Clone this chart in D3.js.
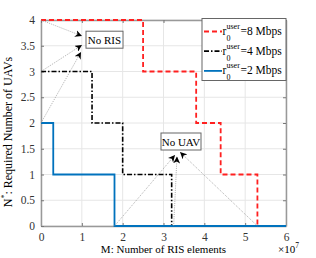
<!DOCTYPE html>
<html>
<head>
<meta charset="utf-8">
<script src="https://cdn.jsdelivr.net/npm/d3@7"></script>
<style>
  body { margin: 0; background: #fff; }
  text { font-family: "Liberation Serif", serif; }
</style>
</head>
<body>
<div id="chart"></div>
<script>
// step data, M in RIS elements
var xTicks = [0, 1e7, 2e7, 3e7, 4e7, 5e7, 6e7];
var yTicks = [0, 0.5, 1, 1.5, 2, 2.5, 3, 3.5, 4];

var redM = [0, 2.5e7, 3.8e7, 4.4e7, 5.3e7, 6e7];
var redN = [4, 3, 2, 1, 0, 0];
var blackM = [0, 1.25e7, 2e7, 3.2e7, 6e7];
var blackN = [3, 2, 1, 0, 0];
var blueM = [0, 0.3e7, 1.8e7, 6e7];
var blueN = [2, 1, 0, 0];

var legendLabels = ["=8 Mbps", "=4 Mbps", "=2 Mbps"];

var svgWidth = 316, svgHeight = 258;
var margin = { top: 20, right: 30, bottom: 32, left: 41 };
var width = svgWidth - margin.left - margin.right;
var height = svgHeight - margin.top - margin.bottom;

var svg = d3.select("#chart").append("svg")
  .attr("width", svgWidth)
  .attr("height", svgHeight);

var defs = svg.append("defs");
defs.append("marker")
  .attr("id", "arrow")
  .attr("viewBox", "0 0 10 10")
  .attr("refX", 10).attr("refY", 5)
  .attr("markerWidth", 7).attr("markerHeight", 7)
  .attr("markerUnits", "userSpaceOnUse")
  .attr("orient", "auto")
  .append("path")
  .attr("d", "M0,0 L10,5 L0,10 L3,5 Z")
  .attr("fill", "#000");

var g = svg.append("g")
  .attr("transform", `translate(${margin.left}, ${margin.top})`);

var x = d3.scaleLinear().domain([0, 6e7]).range([0, width]);
var y = d3.scaleLinear().domain([0, 4]).range([height, 0]);

// grid
g.append("g").selectAll("line").data(xTicks).enter().append("line")
  .attr("x1", d => x(d)).attr("x2", d => x(d))
  .attr("y1", 0).attr("y2", height)
  .attr("stroke", "#e6e6e6").attr("stroke-width", 1);
g.append("g").selectAll("line").data(yTicks).enter().append("line")
  .attr("y1", d => y(d)).attr("y2", d => y(d))
  .attr("x1", 0).attr("x2", width)
  .attr("stroke", "#e6e6e6").attr("stroke-width", 1);

// axes
var xAxis = g.append("g")
  .attr("transform", `translate(0, ${height})`)
  .call(d3.axisBottom(x).tickValues(xTicks).tickSizeInner(-3).tickSizeOuter(0).tickPadding(7)
    .tickFormat(d => d / 1e7));
var yAxis = g.append("g")
  .call(d3.axisLeft(y).tickValues(yTicks).tickSizeInner(-3).tickSizeOuter(0).tickPadding(6)
    .tickFormat(d => d));
g.append("g")
  .call(d3.axisTop(x).tickValues(xTicks).tickSizeInner(-3).tickSizeOuter(0).tickFormat(""));
g.append("g")
  .attr("transform", `translate(${width}, 0)`)
  .call(d3.axisRight(y).tickValues(yTicks).tickSizeInner(-3).tickSizeOuter(0).tickFormat(""));

g.selectAll(".domain").attr("stroke", "#999").attr("stroke-width", 1.5);
g.selectAll(".tick line").attr("stroke", "#777");
g.selectAll(".tick text").attr("font-family", "Liberation Serif").attr("font-size", 11.5).attr("fill", "#333");

// step lines
var line = d3.line().curve(d3.curveStepAfter).x(d => x(d[0])).y(d => y(d[1]));

g.append("path").datum(d3.zip(redM, redN))
  .attr("d", line).attr("fill", "none")
  .attr("stroke", "#ff2020").attr("stroke-width", 1.8).attr("stroke-dasharray", "5,3");
g.append("path").datum(d3.zip(blackM, blackN))
  .attr("d", line).attr("fill", "none")
  .attr("stroke", "#000").attr("stroke-width", 1.6).attr("stroke-dasharray", "5,2,1.5,2");
g.append("path").datum(d3.zip(blueM, blueN))
  .attr("d", line).attr("fill", "none")
  .attr("stroke", "#0072bd").attr("stroke-width", 1.8);

// annotations
function arrow(x1, y1, x2, y2) {
  g.append("line")
    .attr("x1", x1).attr("y1", y1).attr("x2", x2).attr("y2", y2)
    .attr("stroke", "#888").attr("stroke-width", 0.7).attr("stroke-dasharray", "1,1.2")
    .attr("marker-end", "url(#arrow)");
}
var risTip = [[41, 16], [41, 25], [40, 32]];
var risFrom = [4, 3, 2];
risFrom.forEach(function (n, i) {
  arrow(x(0), y(n), risTip[i][0], risTip[i][1]);
});
var uavFrom = [1.8e7, 3.2e7, 5.3e7];
var uavTip = [[134, 135], [136, 136.5], [139, 132]];
uavFrom.forEach(function (m, i) {
  arrow(x(m) + (i == 1 ? 2 : 0), y(0), uavTip[i][0], uavTip[i][1]);
});

function noteBox(cx, cy, w, h, label) {
  g.append("rect")
    .attr("x", cx - w / 2).attr("y", cy - h / 2)
    .attr("width", w).attr("height", h)
    .attr("fill", "#fff").attr("stroke", "#666").attr("stroke-width", 1);
  g.append("text")
    .attr("x", cx).attr("y", cy + 4)
    .attr("text-anchor", "middle").attr("font-size", 11).attr("fill", "#000")
    .text(label);
}
noteBox(63.5, 19.7, 37, 17, "No RIS");
noteBox(140, 121.5, 40, 17, "No UAV");

// legend
var legendColors = ["#ff2020", "#000", "#0072bd"];
var legendDash = ["5,3", "5,2,1.5,2", null];
var legend = g.append("g").attr("transform", `translate(${width - 84}, -1.5)`);
legend.append("rect")
  .attr("width", 84).attr("height", 62)
  .attr("fill", "#fff").attr("stroke", "#666").attr("stroke-width", 1);
legendLabels.forEach(function (lab, i) {
  var ly = 13 + i * 19.7;
  legend.append("line")
    .attr("x1", 2).attr("x2", 20).attr("y1", ly).attr("y2", ly)
    .attr("stroke", legendColors[i]).attr("stroke-width", 1.8)
    .attr("stroke-dasharray", legendDash[i]);
  legend.append("text")
    .attr("x", 20.5).attr("y", ly + 3.5)
    .attr("font-size", 11.5).attr("fill", "#000").text("r");
  legend.append("text")
    .attr("x", 24.5).attr("y", ly - 2.5)
    .attr("font-size", 8).attr("fill", "#000").text("user");
  legend.append("text")
    .attr("x", 24.5).attr("y", ly + 9.5)
    .attr("font-size", 8).attr("fill", "#000").text("0");
  legend.append("text")
    .attr("x", 38.5).attr("y", ly + 3.5)
    .attr("font-size", 11.5).attr("fill", "#000").text(lab);
});

// axis labels
g.append("text")
  .attr("x", width / 2).attr("y", height + 27)
  .attr("text-anchor", "middle").attr("font-size", 11).attr("fill", "#000")
  .text("M: Number of RIS elements");
var exp = g.append("text")
  .attr("x", width - 8).attr("y", height + 27)
  .attr("font-size", 11).attr("fill", "#000");
exp.append("tspan").text("\u00d710");
exp.append("tspan").attr("font-size", 7.5).attr("dy", -5).text("7");

var yl = g.append("text")
  .attr("transform", `translate(-29, 112) rotate(-90)`)
  .attr("text-anchor", "middle").attr("font-size", 12).attr("fill", "#000");
yl.append("tspan").text("N");
yl.append("tspan").attr("font-size", 8).attr("dy", -5).text("*");
yl.append("tspan").attr("dy", 5).text(": Required Number of UAVs");
</script>
</body>
</html>
